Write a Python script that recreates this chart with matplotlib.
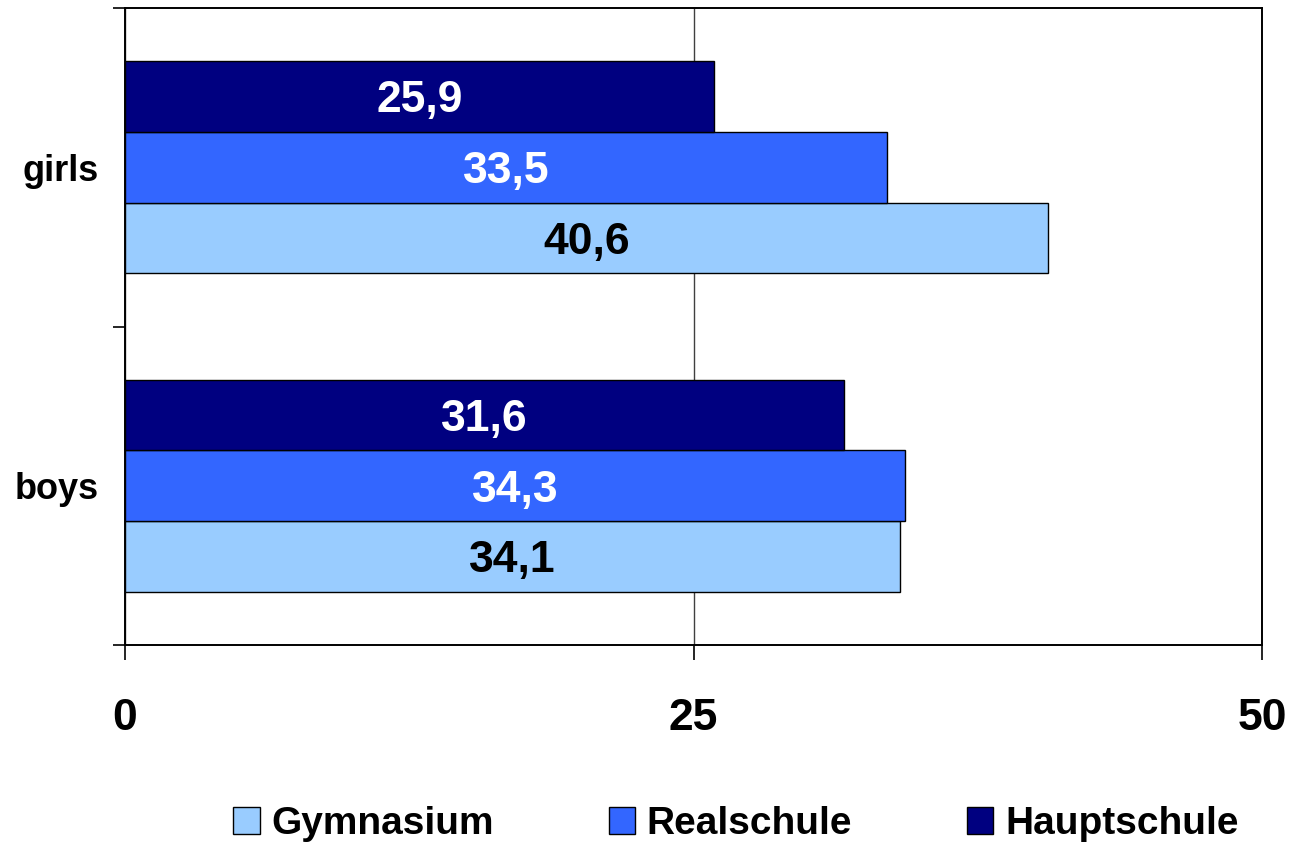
import matplotlib
matplotlib.use("Agg")
import matplotlib.pyplot as plt
import numpy as np

plt.rcParams['font.family'] = ['Liberation Sans', 'DejaVu Sans']
plt.rcParams['font.weight'] = 'bold'

categories = ["boys", "girls"]
series_names = ["Gymnasium", "Realschule", "Hauptschule"]
gymnasium = [34.1, 40.6]
realschule = [34.3, 33.5]
hauptschule = [31.6, 25.9]
x_ticks = [0, 25, 50]

colors = ["#99CCFF", "#3366FF", "#000080"]
label_colors = ["black", "white", "white"]

fig = plt.figure(figsize=(12.92, 8.43), dpi=100)
ax = fig.add_axes([125/1292, 1-645/843, (1262-125)/1292, (645-8)/843])

centers = np.arange(len(categories)) + 0.5
h = 1/4.5
offsets = [-h, 0, h]
data = [gymnasium, realschule, hauptschule]
lab_fs = 32
for vals, off, col, lc, name in zip(data, offsets, colors, label_colors, series_names):
    bars = ax.barh(centers + off, vals, height=h, color=col, edgecolor="black",
                   linewidth=1.0, label=name, zorder=3)
    for b, v in zip(bars, vals):
        ax.annotate(f"{v:.1f}".replace('.', ','),
                    xy=(b.get_width()/2, b.get_y() + b.get_height()/2),
                    xytext=(0, -lab_fs*0.716/2), textcoords="offset points",
                    ha="center", va="baseline",
                    color=lc, fontsize=lab_fs, fontweight="bold", zorder=4)

ax.set_xlim(0, 50)
ax.set_ylim(0, len(categories))
ax.set_xticks(x_ticks)
ax.set_xticklabels([str(t) for t in x_ticks], fontsize=32, fontweight="bold")
ax.tick_params(axis="x", direction="out", length=11, width=1.2, pad=27, colors="black")
ax.set_yticks(np.arange(len(categories) + 1))
ax.set_yticklabels([])
ax.tick_params(axis="y", which="major", direction="out", length=9, width=1.2)
ax.set_yticks(centers, minor=True)
ax.set_yticklabels(categories, minor=True, fontsize=26, fontweight="bold")
ax.tick_params(axis="y", which="minor", length=0, pad=19)

ax.grid(axis="x", color="#404040", linewidth=1.0, zorder=0)
for s in ax.spines.values():
    s.set_color("black")
    s.set_linewidth(1.4)

leg = fig.legend(loc="center", bbox_to_anchor=(736/1292, 1-824/843), ncol=3,
                 frameon=False, fontsize=28, handlelength=0.68, handleheight=0.68,
                 handletextpad=0.3, columnspacing=2.95)
for t in leg.get_texts():
    t.set_fontweight("bold")

fig.savefig("out.png", dpi=100)
